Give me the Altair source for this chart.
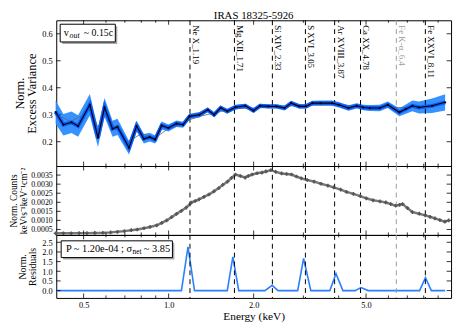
import altair as alt
import pandas as pd

FONT = "Liberation Serif"

# ---------------- data ----------------
title_text = "IRAS 18325-5926"

# Top panel: normalised excess variance spectrum
ev_energy = [0.398, 0.424, 0.453, 0.478, 0.526, 0.562, 0.593, 0.633, 0.659, 0.724,
             0.770, 0.817, 0.857, 0.896, 0.945, 0.998, 1.066, 1.125, 1.186, 1.285,
             1.375, 1.449, 1.529, 1.613, 1.724, 1.868, 1.997, 2.107, 2.252, 2.408,
             2.574, 2.716, 2.903, 3.063, 3.229, 3.453, 3.791, 4.000, 4.334, 4.633,
             4.888, 5.156, 5.587, 5.971, 6.558, 6.915, 7.296, 7.698, 8.565, 9.527]
ev_value = [0.310, 0.263, 0.272, 0.258, 0.337, 0.215, 0.327, 0.248, 0.255, 0.178,
            0.258, 0.211, 0.217, 0.208, 0.260, 0.251, 0.267, 0.263, 0.294, 0.300,
            0.318, 0.300, 0.325, 0.313, 0.328, 0.333, 0.315, 0.333, 0.331, 0.331,
            0.325, 0.343, 0.331, 0.331, 0.343, 0.343, 0.343, 0.337, 0.325, 0.333,
            0.327, 0.325, 0.325, 0.337, 0.309, 0.321, 0.333, 0.327, 0.333, 0.346]
ev_error = [0.043, 0.040, 0.040, 0.040, 0.040, 0.035, 0.035, 0.030, 0.030, 0.025,
            0.020, 0.018, 0.016, 0.015, 0.015, 0.013, 0.012, 0.011, 0.010, 0.010,
            0.009, 0.009, 0.009, 0.009, 0.009, 0.008, 0.008, 0.008, 0.008, 0.008,
            0.009, 0.009, 0.009, 0.009, 0.009, 0.010, 0.010, 0.010, 0.010, 0.010,
            0.010, 0.011, 0.012, 0.012, 0.015, 0.017, 0.020, 0.022, 0.027, 0.030]

# thin model curve under the excess variance
model_energy = [0.40, 0.45, 0.50, 0.53, 0.56, 0.60, 0.65, 0.72, 0.80, 0.90, 1.00, 1.12,
                1.19, 1.30, 1.50, 1.70, 2.00, 2.50, 3.00, 4.00, 5.00, 6.00, 7.00, 8.00, 9.50]
model_value = [0.300, 0.275, 0.300, 0.325, 0.255, 0.300, 0.250, 0.200, 0.230, 0.215, 0.250, 0.263,
               0.282, 0.295, 0.310, 0.322, 0.325, 0.330, 0.335, 0.337, 0.330, 0.328, 0.326, 0.330, 0.342]

# Middle panel: normalised counts spectrum
sp_energy = [0.398, 0.424, 0.452, 0.482, 0.514, 0.548, 0.585, 0.623, 0.659, 0.697,
             0.737, 0.774, 0.818, 0.859, 0.908, 0.945, 0.984, 1.024, 1.066, 1.110,
             1.155, 1.202, 1.242, 1.282, 1.334, 1.389, 1.446, 1.505, 1.554, 1.617,
             1.670, 1.724, 1.795, 1.868, 1.914, 1.976, 2.057, 2.141, 2.211, 2.301,
             2.395, 2.513, 2.616, 2.723, 2.834, 2.950, 3.095, 3.274, 3.463, 3.663,
             3.843, 4.065, 4.265, 4.511, 4.771, 5.006, 5.295, 5.600, 5.876, 6.117,
             6.367, 6.575, 6.735, 7.010, 7.296, 7.717, 8.097, 8.428, 8.773, 9.131,
             9.504, 9.814]
sp_value = [0.00029, 0.00029, 0.00029, 0.00030, 0.00030, 0.00031, 0.00032, 0.00034, 0.00037, 0.00041,
            0.00046, 0.00050, 0.00057, 0.00064, 0.00073, 0.00086, 0.00100, 0.00118, 0.00136, 0.00153,
            0.00171, 0.00198, 0.00207, 0.00216, 0.00230, 0.00243, 0.00260, 0.00278, 0.00296, 0.00314,
            0.00335, 0.00353, 0.00345, 0.00336, 0.00345, 0.00353, 0.00360, 0.00364, 0.00370, 0.00377,
            0.00368, 0.00359, 0.00356, 0.00353, 0.00342, 0.00332, 0.00323, 0.00314, 0.00302, 0.00292,
            0.00282, 0.00270, 0.00257, 0.00246, 0.00234, 0.00222, 0.00211, 0.00205, 0.00199, 0.00190,
            0.00181, 0.00186, 0.00190, 0.00168, 0.00146, 0.00137, 0.00128, 0.00120, 0.00111, 0.00102,
            0.00093, 0.00100]

# Bottom panel: normalised residuals
res_energy = [0.40, 1.110, 1.171, 1.235, 1.613, 1.688, 1.771, 2.193, 2.325, 2.440,
              2.864, 3.005, 3.188, 3.722, 3.914, 4.140, 4.573, 4.798, 5.087,
              7.735, 8.117, 8.516, 9.53]
res_value = [0, 0, 2.26, 0, 0, 1.74, 0, 0, 0.27, 0,
             0, 1.66, 0, 0, 0.88, 0, 0, 0.16, 0,
             0, 0.67, 0, 0]

# Line identifications
ion_energy = [1.19, 1.71, 2.33, 3.05, 3.87, 4.78, 8.11]
ion_label = ["Ne X_1.19", "Mg XII_1.71", "Si XIV_2.33", "S XVI_3.05",
             "Ar XVIII_3.87", "Ca XX_4.78", "Fe XXVI_8.11"]
fe_energy = [6.4]
fe_label = ["Fe K-\u03b1_6.4"]

# Tick values
x_major = [0.5, 1, 2, 5]
x_minor = [0.6, 0.7, 0.8, 0.9, 3, 4, 6, 7, 8, 9]
y_top_ticks = [0.2, 0.3, 0.4, 0.5, 0.6]
y_mid_ticks = [0.0005, 0.001, 0.0015, 0.002, 0.0025, 0.003, 0.0035]
y_bot_ticks = [0.0, 0.5, 1.0, 1.5, 2.0, 2.5]

# ---------------- frames ----------------
ev_df = pd.DataFrame({"E": ev_energy, "v": ev_value,
                      "lo": [a - b for a, b in zip(ev_value, ev_error)],
                      "hi": [a + b for a, b in zip(ev_value, ev_error)]})
model_df = pd.DataFrame({"E": model_energy, "v": model_value})
sp_df = pd.DataFrame({"E": sp_energy, "v": sp_value})
res_df = pd.DataFrame({"E": res_energy, "v": res_value})
ion_df = pd.DataFrame({"E": ion_energy, "label": ion_label})
fe_df = pd.DataFrame({"E": fe_energy, "label": fe_label})
xmaj_df = pd.DataFrame({"E": x_major})
xmin_df = pd.DataFrame({"E": x_minor})
one = pd.DataFrame({"a": [0]})

W = 401
xscale = alt.Scale(type="log", domain=[0.4, 10], nice=False)
x_full = alt.Axis(values=x_major, format=".1f", title="Energy (keV)", ticks=False,
                  labelPadding=3, titlePadding=1, titleFontSize=11.5, labelFontSize=8.5,
                  labelOverlap=False)


def X(full=False, field="E:Q"):
    return alt.X(field, scale=xscale, axis=(x_full if full else None))


def rules(full=False):
    ion = alt.Chart(ion_df).mark_rule(color="black", strokeWidth=1, strokeDash=[5, 4]).encode(x=X(full))
    fe = alt.Chart(fe_df).mark_rule(color="#9a9a9a", strokeWidth=1, strokeDash=[5, 4]).encode(x=X(full))
    return [ion, fe]


def frame_ticks(H, yvals, yscale, yaxis, full=False):
    """Inward ticks on all four sides of a panel."""
    ydf = pd.DataFrame({"v": yvals})
    out = []
    for df, L in ((xmaj_df, 4.5), (xmin_df, 2.5)):
        out.append(alt.Chart(df).mark_rule(color="black", strokeWidth=0.8).encode(
            x=X(full), y=alt.value(H), y2=alt.value(H - L)))
        out.append(alt.Chart(df).mark_rule(color="black", strokeWidth=0.8).encode(
            x=X(full), y=alt.value(0), y2=alt.value(L)))
    out.append(alt.Chart(ydf).mark_rule(color="black", strokeWidth=0.8).encode(
        y=alt.Y("v:Q", scale=yscale, axis=yaxis), x=alt.value(0), x2=alt.value(4.5)))
    out.append(alt.Chart(ydf).mark_rule(color="black", strokeWidth=0.8).encode(
        y=alt.Y("v:Q", scale=yscale, axis=yaxis), x=alt.value(W), x2=alt.value(W - 4.5)))
    return out


# ---------------- top panel ----------------
H1 = 148
ys_top = alt.Scale(domain=[0.11, 0.65], zero=False, nice=False)
ax_top = alt.Axis(values=y_top_ticks, format=".1f", ticks=False,
                  title=["Norm.", "Excess Variance"], titleFontSize=12.5,
                  titleLineHeight=13, labelPadding=4, titlePadding=3, labelOverlap=False)


def YT(field):
    return alt.Y(field, scale=ys_top, axis=ax_top)


band = alt.Chart(ev_df).mark_area(color="#2b8cff", opacity=0.95).encode(
    x=X(), y=YT("lo:Q"), y2="hi:Q")
model = alt.Chart(model_df).mark_line(color="#666666", strokeWidth=0.8).encode(x=X(), y=YT("v:Q"))
thick = alt.Chart(ev_df).mark_line(color="#0b5cff", strokeWidth=4).encode(x=X(), y=YT("v:Q"))
thin = alt.Chart(ev_df).mark_line(color="black", strokeWidth=1.1).encode(x=X(), y=YT("v:Q"))
pts = alt.Chart(ev_df).mark_point(color="black", filled=True, size=5, opacity=1).encode(
    x=X(), y=YT("v:Q"))

ion_text = alt.Chart(ion_df).mark_text(angle=90, align="left", baseline="bottom", dy=-1,
                                       font=FONT, fontSize=9, color="black").encode(
    x=X(), y=alt.value(5), text="label:N")
fe_text = alt.Chart(fe_df).mark_text(angle=90, align="left", baseline="bottom", dy=-1,
                                     font=FONT, fontSize=9, color="#9a9a9a").encode(
    x=X(), y=alt.value(5), text="label:N")

shadow1 = alt.Chart(one).mark_rect(color="#a8a8a8").encode(
    x=alt.value(6), x2=alt.value(62), y=alt.value(6), y2=alt.value(24))
box1 = alt.Chart(one).mark_rect(fill="white", stroke="black", strokeWidth=1).encode(
    x=alt.value(4), x2=alt.value(60), y=alt.value(4), y2=alt.value(22))
t1a = alt.Chart(one).mark_text(text="v", align="right", baseline="middle", font=FONT,
                               fontSize=10.5, color="black").encode(x=alt.value(13), y=alt.value(13))
t1b = alt.Chart(one).mark_text(text="out", align="left", baseline="middle", font=FONT,
                               fontSize=8, fontStyle="italic", color="black").encode(
    x=alt.value(13.5), y=alt.value(16))
t1c = alt.Chart(one).mark_text(text="~ 0.15c", align="left", baseline="middle", font=FONT,
                               fontSize=10, color="black").encode(x=alt.value(28), y=alt.value(13))
ttl = alt.Chart(one).mark_text(text=title_text, align="center", baseline="alphabetic", font=FONT,
                               fontSize=11, color="black").encode(
    x=alt.value(W / 2), y=alt.value(-1.5))

top = alt.layer(band, *rules(), *frame_ticks(H1, y_top_ticks, ys_top, ax_top), model, thick, thin,
                pts, ion_text, fe_text, shadow1, box1, t1a, t1b, t1c, ttl).properties(
    width=W, height=H1)

# ---------------- middle panel ----------------
H2 = 70
ys_mid = alt.Scale(domain=[0.0002, 0.004], zero=False, nice=False)
ax_mid = alt.Axis(values=y_mid_ticks, format=".4f", ticks=False,
                  title=["Norm. Counts", "keV\u00b9s\u207b\u00b9keV\u207b\u00b9cm\u207b\u00b2"],
                  titleFontSize=9.5, titleLineHeight=10, labelPadding=4, titlePadding=2,
                  labelFontSize=8, labelOverlap=False)
sp_line = alt.Chart(sp_df).mark_line(color="#7a7a7a", strokeWidth=2.5).encode(
    x=X(), y=alt.Y("v:Q", scale=ys_mid, axis=ax_mid))
sp_pts = alt.Chart(sp_df).mark_point(shape="cross", filled=True, size=14, color="#555555",
                                     opacity=1).encode(x=X(), y=alt.Y("v:Q", scale=ys_mid, axis=ax_mid))
mid = alt.layer(sp_line, *rules(), *frame_ticks(H2, y_mid_ticks, ys_mid, ax_mid), sp_pts).properties(
    width=W, height=H2)

# ---------------- bottom panel ----------------
H3 = 64
ys_bot = alt.Scale(domain=[-0.38, 2.88], zero=False, nice=False)
ax_bot = alt.Axis(values=y_bot_ticks, format=".1f", ticks=False,
                  title=["Norm.", "Residuals"], titleFontSize=10, titleLineHeight=10.5,
                  labelPadding=4, titlePadding=4, labelOverlap=False)
res_line = alt.Chart(res_df).mark_line(color="#2a7fff", strokeWidth=1.6).encode(
    x=X(True), y=alt.Y("v:Q", scale=ys_bot, axis=ax_bot))
shadow2 = alt.Chart(one).mark_rect(color="#a8a8a8").encode(
    x=alt.value(7), x2=alt.value(120), y=alt.value(8), y2=alt.value(25))
box2 = alt.Chart(one).mark_rect(fill="white", stroke="black", strokeWidth=1).encode(
    x=alt.value(5), x2=alt.value(118), y=alt.value(6), y2=alt.value(23))
t2a = alt.Chart(one).mark_text(text="P ~ 1.20e-04 ; \u03c3", align="right", baseline="middle",
                               font=FONT, fontSize=10.5, color="black").encode(
    x=alt.value(77), y=alt.value(14))
t2b = alt.Chart(one).mark_text(text="net", align="left", baseline="middle", font=FONT,
                               fontSize=7.5, color="black").encode(x=alt.value(77.5), y=alt.value(17))
t2c = alt.Chart(one).mark_text(text="~ 3.85", align="left", baseline="middle", font=FONT,
                               fontSize=10.5, color="black").encode(x=alt.value(89), y=alt.value(14))
bot = alt.layer(res_line, *rules(True), *frame_ticks(H3, y_bot_ticks, ys_bot, ax_bot, True),
                shadow2, box2, t2a, t2b, t2c).properties(width=W, height=H3)

chart = alt.vconcat(top, mid, bot, spacing=0, bounds="flush").configure(
    padding={"left": 0, "top": -1, "right": 0, "bottom": 0}, background="white", font=FONT
).configure_axis(
    labelFont=FONT, titleFont=FONT, labelFontSize=8.5, titleFontWeight="normal",
    titleColor="black", labelColor="black", tickColor="black", domain=False, grid=False
).configure_view(stroke="black", strokeWidth=1)

chart.save("out.html", embed_options={"renderer": "svg", "actions": False})
